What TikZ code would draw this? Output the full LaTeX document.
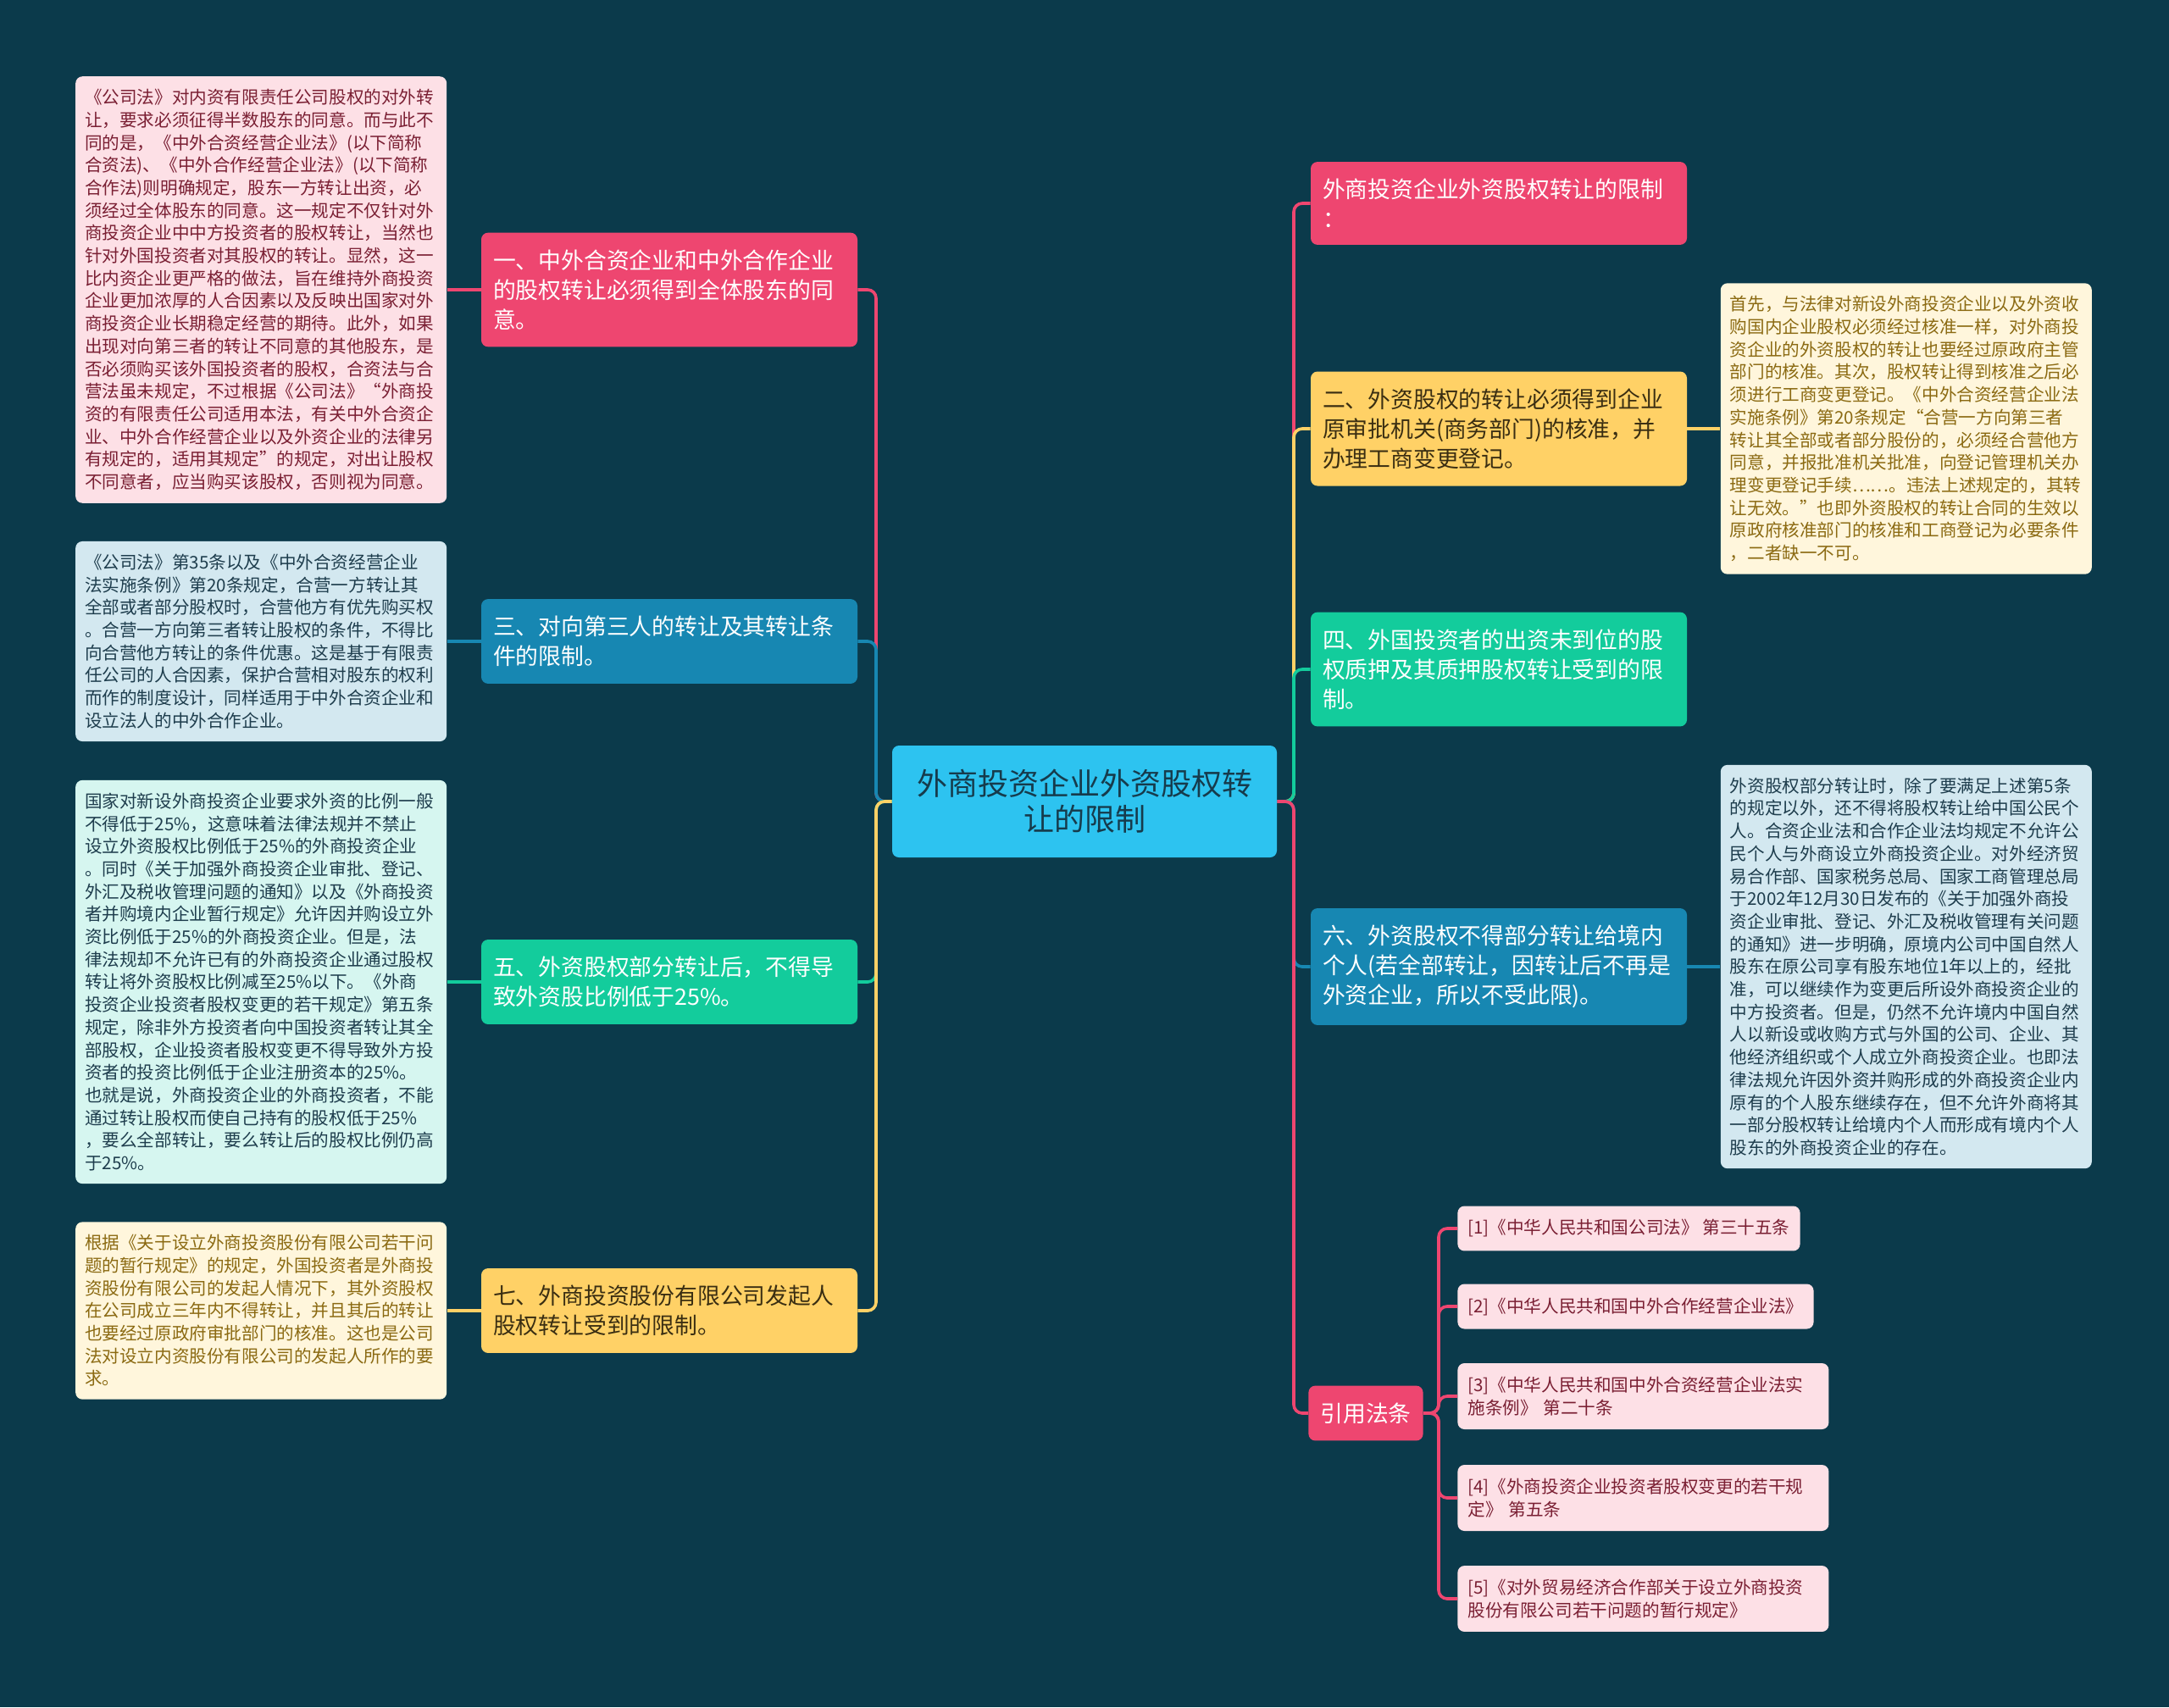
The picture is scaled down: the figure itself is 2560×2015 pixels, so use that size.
\documentclass[tikz,border=0pt]{standalone}
\usepackage{fontspec}
\setmainfont{Noto Sans CJK SC}
\usetikzlibrary{positioning}

\definecolor{bgc}{HTML}{0B3A4B}
\definecolor{pk}{HTML}{EE4670}
\definecolor{yl}{HTML}{FFD166}
\definecolor{gn}{HTML}{13CC9C}
\definecolor{bl}{HTML}{1787B2}
\definecolor{cy}{HTML}{2DC3F0}
\definecolor{rootink}{HTML}{163B4C}
\definecolor{ylink}{HTML}{3A2E12}
\definecolor{pkpale}{HTML}{FDE0E6}
\definecolor{blpale}{HTML}{D3E8F0}
\definecolor{gnpale}{HTML}{D6F6F0}
\definecolor{ylpale}{HTML}{FFF6DC}
\definecolor{pkink}{HTML}{7A1F33}
\definecolor{blink}{HTML}{1E3D4D}
\definecolor{brink}{HTML}{8B6A12}

\begin{document}
\begin{tikzpicture}[x=0.5pt, y=-0.5pt,
  root/.style={fill=cy, text=rootink, rounded corners=4pt, align=center,
    minimum width=227pt, minimum height=66pt, font=\fontsize{18}{21}\selectfont},
  topic/.style={fill=#1, rounded corners=4pt, align=left, text width=208pt,
    inner xsep=7pt, inner ysep=10pt, font=\fontsize{13.4}{17.5}\selectfont},
  note/.style={rounded corners=4pt, align=left, text width=208pt,
    inner xsep=5.5pt, inner ysep=7.5pt, font=\fontsize{10.3}{13.35}\selectfont},
  law/.style={fill=pkpale, text=pkink, rounded corners=4pt, align=left,
    inner xsep=6pt, inner ysep=8pt, font=\fontsize{10.3}{13.35}\selectfont, anchor=west},
  link/.style={draw=#1, line width=1.8pt, rounded corners=5pt},
]

%==================== LATAR ====================
\fill[bgc] (0,0) rectangle (2560,2015);
\useasboundingbox (0,0) rectangle (2560,2015);

%==================== PUSAT ====================
\node[root] (root) at (1280,946) {外商投资企业外资股权转\\让的限制};
\coordinate (lj) at (1034,946);
\coordinate (rj) at (1527,946);

%==================== KIRI: cabang ====================
\node[topic=pk, text=white] (L1) at (790,342)
  {一、中外合资企业和中外合作企业\\的股权转让必须得到全体股东的同\\意。};
\node[topic=bl, text=white] (L3) at (790,757)
  {三、对向第三人的转让及其转让条\\件的限制。};
\node[topic=gn, text=white] (L5) at (790,1159)
  {五、外资股权部分转让后，不得导\\致外资股比例低于25\%。};
\node[topic=yl, text=ylink] (L7) at (790,1547)
  {七、外商投资股份有限公司发起人\\股权转让受到的限制。};

%==================== KIRI: keterangan ====================
\node[note, fill=pkpale, text=pkink, left=20pt of L1] (D1)
  {《公司法》对内资有限责任公司股权的对外转\\
   让，要求必须征得半数股东的同意。而与此不\\
   同的是，《中外合资经营企业法》(以下简称\\
   合资法)、《中外合作经营企业法》(以下简称\\
   合作法)则明确规定，股东一方转让出资，必\\
   须经过全体股东的同意。这一规定不仅针对外\\
   商投资企业中中方投资者的股权转让，当然也\\
   针对外国投资者对其股权的转让。显然，这一\\
   比内资企业更严格的做法，旨在维持外商投资\\
   企业更加浓厚的人合因素以及反映出国家对外\\
   商投资企业长期稳定经营的期待。此外，如果\\
   出现对向第三者的转让不同意的其他股东，是\\
   否必须购买该外国投资者的股权，合资法与合\\
   营法虽未规定，不过根据《公司法》“外商投\\
   资的有限责任公司适用本法，有关中外合资企\\
   业、中外合作经营企业以及外资企业的法律另\\
   有规定的，适用其规定”的规定，对出让股权\\
   不同意者，应当购买该股权，否则视为同意。};
\node[note, fill=blpale, text=blink, left=20pt of L3] (D3)
  {《公司法》第35条以及《中外合资经营企业\\
   法实施条例》第20条规定，合营一方转让其\\
   全部或者部分股权时，合营他方有优先购买权\\
   。合营一方向第三者转让股权的条件，不得比\\
   向合营他方转让的条件优惠。这是基于有限责\\
   任公司的人合因素，保护合营相对股东的权利\\
   而作的制度设计，同样适用于中外合资企业和\\
   设立法人的中外合作企业。};
\node[note, fill=gnpale, text=blink, left=20pt of L5] (D5)
  {国家对新设外商投资企业要求外资的比例一般\\
   不得低于25\%，这意味着法律法规并不禁止\\
   设立外资股权比例低于25\%的外商投资企业\\
   。同时《关于加强外商投资企业审批、登记、\\
   外汇及税收管理问题的通知》以及《外商投资\\
   者并购境内企业暂行规定》允许因并购设立外\\
   资比例低于25\%的外商投资企业。但是，法\\
   律法规却不允许已有的外商投资企业通过股权\\
   转让将外资股权比例减至25\%以下。《外商\\
   投资企业投资者股权变更的若干规定》第五条\\
   规定，除非外方投资者向中国投资者转让其全\\
   部股权，企业投资者股权变更不得导致外方投\\
   资者的投资比例低于企业注册资本的25\%。\\
   也就是说，外商投资企业的外商投资者，不能\\
   通过转让股权而使自己持有的股权低于25\%\\
   ，要么全部转让，要么转让后的股权比例仍高\\
   于25\%。};
\node[note, fill=ylpale, text=brink, left=20pt of L7] (D7)
  {根据《关于设立外商投资股份有限公司若干问\\
   题的暂行规定》的规定，外国投资者是外商投\\
   资股份有限公司的发起人情况下，其外资股权\\
   在公司成立三年内不得转让，并且其后的转让\\
   也要经过原政府审批部门的核准。这也是公司\\
   法对设立内资股份有限公司的发起人所作的要\\
   求。};

%==================== KANAN: cabang ====================
\node[topic=pk, text=white] (R1) at (1769,240)
  {外商投资企业外资股权转让的限制\\：};
\node[topic=yl, text=ylink] (R2) at (1769,506)
  {二、外资股权的转让必须得到企业\\原审批机关(商务部门)的核准，并\\办理工商变更登记。};
\node[topic=gn, text=white] (R4) at (1769,790)
  {四、外国投资者的出资未到位的股\\权质押及其质押股权转让受到的限\\制。};
\node[topic=bl, text=white] (R6) at (1769,1141)
  {六、外资股权不得部分转让给境内\\个人(若全部转让，因转让后不再是\\外资企业，所以不受此限)。};
\node[topic=pk, text=white, text width=] (REF) at (1612,1668) {引用法条};

%==================== KANAN: keterangan ====================
\node[note, fill=ylpale, text=brink, right=19.5pt of R2] (RD2)
  {首先，与法律对新设外商投资企业以及外资收\\
   购国内企业股权必须经过核准一样，对外商投\\
   资企业的外资股权的转让也要经过原政府主管\\
   部门的核准。其次，股权转让得到核准之后必\\
   须进行工商变更登记。《中外合资经营企业法\\
   实施条例》第20条规定“合营一方向第三者\\
   转让其全部或者部分股份的，必须经合营他方\\
   同意，并报批准机关批准，向登记管理机关办\\
   理变更登记手续……。违法上述规定的，其转\\
   让无效。”也即外资股权的转让合同的生效以\\
   原政府核准部门的核准和工商登记为必要条件\\
   ，二者缺一不可。};
\node[note, fill=blpale, text=blink, right=19.5pt of R6] (RD6)
  {外资股权部分转让时，除了要满足上述第5条\\
   的规定以外，还不得将股权转让给中国公民个\\
   人。合资企业法和合作企业法均规定不允许公\\
   民个人与外商设立外商投资企业。对外经济贸\\
   易合作部、国家税务总局、国家工商管理总局\\
   于2002年12月30日发布的《关于加强外商投\\
   资企业审批、登记、外汇及税收管理有关问题\\
   的通知》进一步明确，原境内公司中国自然人\\
   股东在原公司享有股东地位1年以上的，经批\\
   准，可以继续作为变更后所设外商投资企业的\\
   中方投资者。但是，仍然不允许境内中国自然\\
   人以新设或收购方式与外国的公司、企业、其\\
   他经济组织或个人成立外商投资企业。也即法\\
   律法规允许因外资并购形成的外商投资企业内\\
   原有的个人股东继续存在，但不允许外商将其\\
   一部分股权转让给境内个人而形成有境内个人\\
   股东的外商投资企业的存在。};

%==================== KANAN BAWAH: pasal rujukan ====================
\node[law] (F1) at (1720,1450) {[1]《中华人民共和国公司法》 第三十五条};
\node[law] (F2) at (1720,1542) {[2]《中华人民共和国中外合作经营企业法》};
\node[law, text width=207pt] (F3) at (1720,1648) {[3]《中华人民共和国中外合资经营企业法实\\施条例》 第二十条};
\node[law, text width=207pt] (F4) at (1720,1768) {[4]《外商投资企业投资者股权变更的若干规\\定》 第五条};
\node[law, text width=207pt] (F5) at (1720,1887) {[5]《对外贸易经济合作部关于设立外商投资\\股份有限公司若干问题的暂行规定》};
\coordinate (fj) at (1698,1668);

%==================== GARIS ====================
% pusat ke kiri
\draw[link=pk] (root.west) -- (lj) |- (L1.east);
\draw[link=bl] (root.west) -- (lj) |- (L3.east);
\draw[link=gn] (root.west) -- (lj) |- (L5.east);
\draw[link=yl] (root.west) -- (lj) |- (L7.east);
% pusat ke kanan
\draw[link=pk] (root.east) -- (rj) |- (R1.west);
\draw[link=yl] (root.east) -- (rj) |- (R2.west);
\draw[link=gn] (root.east) -- (rj) |- (R4.west);
\draw[link=bl] (root.east) -- (rj) |- (R6.west);
\draw[link=pk] (root.east) -- (rj) |- (REF.west);
% cabang ke keterangan
\draw[link=pk] (L1.west) -- (D1.east);
\draw[link=bl] (L3.west) -- (D3.east);
\draw[link=gn] (L5.west) -- (D5.east);
\draw[link=yl] (L7.west) -- (D7.east);
\draw[link=yl] (R2.east) -- (RD2.west);
\draw[link=bl] (R6.east) -- (RD6.west);
% rujukan
\foreach \f in {F1,F2,F3,F4,F5}
  \draw[link=pk] (REF.east) -- (fj) |- (\f.west);

\end{tikzpicture}
\end{document}
